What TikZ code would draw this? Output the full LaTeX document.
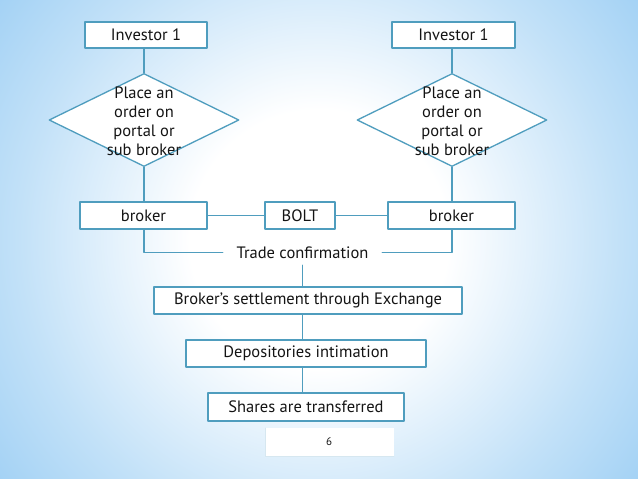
\documentclass[tikz,border=0pt]{standalone}
\usepackage{fontspec}
\setmainfont{PT Sans}
\usetikzlibrary{shapes.geometric}
\definecolor{flowblue}{HTML}{4F9DBE}
\definecolor{inktext}{HTML}{141414}
\definecolor{bgmid}{HTML}{C2E1F8}
\definecolor{bgedge}{HTML}{96CBF3}
\definecolor{footline}{HTML}{D6E7F0}
\pgfdeclareradialshading{slideglow}{\pgfpoint{0bp}{0bp}}{color(0bp)=(white); color(9bp)=(white); color(21bp)=(bgmid); color(31bp)=(bgedge); color(50bp)=(bgedge)}

\begin{document}
\begin{tikzpicture}[x=1pt,y=-1pt,line cap=round,line join=round,
  every node/.style={font=\fontsize{16.5}{19}\selectfont,text=inktext},
  stepbox/.style={draw=flowblue,fill=white,line width=1.3pt,inner sep=0pt},
  choice/.style={diamond,draw=flowblue,fill=white,line width=1.3pt,inner sep=0pt,minimum width=190pt,minimum height=93pt},
  flowline/.style={draw=flowblue,line width=1.3pt}]
  % hintergrund
  \useasboundingbox (0,0) rectangle (638,479);
  \begin{scope}
    \clip (0,0) rectangle (638,479);
    \shade[shading=slideglow] (-40,-120) rectangle (678,599);
  \end{scope}
  % fusszeile mit seitenzahl
  \fill[white] (265,428) rectangle (394,456);
  \draw[footline,line width=0.6pt] (265,428) -- (265,456) -- (394,456);
  \node (pagenum) at (329,442) {\fontsize{11}{12}\selectfont 6};
  % linke spalte
  \node[stepbox,minimum width=122pt,minimum height=26pt] (inv1) at (146,35) {Investor 1};
  \node[choice] (dia1) at (144,120) {};
  \node[align=center] (dia1txt) at (144,121) {Place an\\order on\\portal or\\sub broker};
  \node[stepbox,minimum width=127pt,minimum height=27pt] (brk1) at (143.5,215.5) {broker};
  % rechte spalte
  \node[stepbox,minimum width=123pt,minimum height=26pt] (inv2) at (453.5,35) {Investor 1};
  \node[choice] (dia2) at (452,120) {};
  \node[align=center] (dia2txt) at (452,121) {Place an\\order on\\portal or\\sub broker};
  \node[stepbox,minimum width=127pt,minimum height=27pt] (brk2) at (451.5,215.5) {broker};
  % mitte
  \node[stepbox,minimum width=70pt,minimum height=27pt] (bolt) at (300,215.5) {BOLT};
  \node[fill=white,inner sep=0pt,minimum width=159pt,minimum height=25pt] (trade) at (302.5,252.5) {Trade confirmation};
  \node[stepbox,minimum width=308pt,minimum height=27pt] (settle) at (308,300.5) {Broker’s settlement through Exchange};
  \node[stepbox,minimum width=240pt,minimum height=27pt] (depo) at (306,353.5) {Depositories intimation};
  \node[stepbox,minimum width=196pt,minimum height=28pt] (shares) at (306,407) {Shares are transferred};
  % verbindungen
  \draw[flowline] (dia1.north) -- (dia1.north |- inv1.south);
  \draw[flowline] (dia1.south) -- (dia1.south |- brk1.north);
  \draw[flowline] (dia2.north) -- (dia2.north |- inv2.south);
  \draw[flowline] (dia2.south) -- (dia2.south |- brk2.north);
  \draw[flowline] (brk1.east) -- (bolt.west);
  \draw[flowline] (bolt.east) -- (brk2.west);
  \draw[flowline] (dia1.south |- brk1.south) |- (trade.west);
  \draw[flowline] (dia2.south |- brk2.south) |- (trade.east);
  \draw[flowline] (trade.south) -- (trade.south |- settle.north);
  \draw[flowline] (trade.south |- settle.south) -- (trade.south |- depo.north);
  \draw[flowline] (trade.south |- depo.south) -- (trade.south |- shares.north);
\end{tikzpicture}
\end{document}
